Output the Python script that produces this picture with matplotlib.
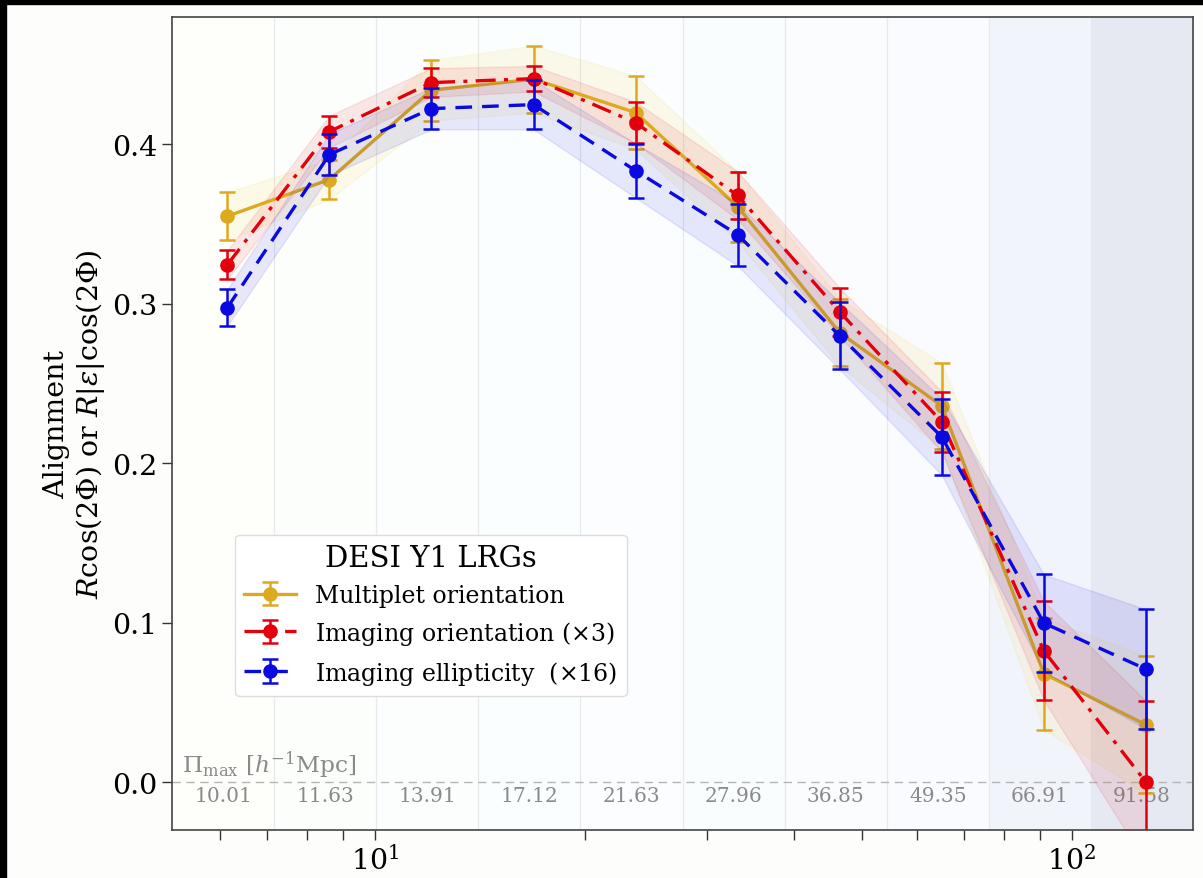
import numpy as np
import matplotlib
matplotlib.use("Agg")
import matplotlib.pyplot as plt
from matplotlib.patches import Rectangle

plt.rcParams['font.family'] = ['DejaVu Serif']
plt.rcParams['mathtext.fontset'] = 'dejavuserif'

# ---- data ----
r_centers = [6.14, 8.60, 12.05, 16.89, 23.66, 33.16, 46.45, 65.09, 91.2, 127.8]

multiplet = [0.355, 0.378, 0.434, 0.441, 0.420, 0.361, 0.282, 0.236, 0.068, 0.036]
multiplet_err = [0.015, 0.0125, 0.019, 0.021, 0.023, 0.022, 0.021, 0.027, 0.035, 0.043]

img_orient = [0.3245, 0.408, 0.4388, 0.4413, 0.4137, 0.368, 0.295, 0.226, 0.0824, 0.0]
img_orient_err = [0.009, 0.010, 0.009, 0.008, 0.013, 0.015, 0.015, 0.019, 0.031, 0.051]

img_ellip = [0.2976, 0.3936, 0.4225, 0.425, 0.3836, 0.3434, 0.280, 0.2166, 0.0998, 0.0709]
img_ellip_err = [0.0115, 0.013, 0.013, 0.0155, 0.017, 0.0195, 0.021, 0.024, 0.0305, 0.0375]

band_edges = [5.115, 7.168, 10.044, 14.075, 19.72, 27.64, 38.73, 54.27, 76.05, 106.57, 149.3]
pimax_labels = ['10.01', '11.63', '13.91', '17.12', '21.63', '27.96', '36.85', '49.35', '66.91', '91.58']

series_labels = ['Multiplet orientation', r'Imaging orientation ($\times$3)',
                 r'Imaging ellipticity  ($\times$16)']

# ---- style ----
band_colors = ['#FEFEFB', '#FCFEFC', '#FBFEFD', '#FBFEFE', '#FBFDFE', '#FAFDFE',
               '#FAFCFE', '#F9FBFE', '#F2F4FC', '#E6E8F2']
c_gold = '#DDA91F'
c_red = '#E2000C'
c_blue = '#0A0AE0'
fill_colors = ['#F2CC1A', c_red, c_blue]

fig = plt.figure(figsize=(12.03, 8.79), dpi=100)
fig.patch.set_facecolor('#FDFDFB')
ax = fig.add_axes([0.143, 0.0546, 0.8487, 0.9250])

ax.set_xscale('log')
ax.set_xlim(band_edges[0], band_edges[-1])
ax.set_ylim(-0.030, 0.480)

# background bands
for i in range(len(pimax_labels)):
    ax.axvspan(band_edges[i], band_edges[i + 1], color=band_colors[i], zorder=0, lw=0)
    if i > 0:
        ax.axvline(band_edges[i], color='#E6E9EE', lw=0.9, zorder=0.5)
    xc = np.sqrt(band_edges[i] * band_edges[i + 1])
    ax.text(xc, -0.0085, pimax_labels[i], ha='center', va='center',
            fontsize=14.5, color='#8A8A8A', zorder=1)

ax.text(0.01, 0.0112, r'$\Pi_{\rm max}\ [h^{-1}{\rm Mpc}]$', transform=ax.get_yaxis_transform(),
        ha='left', va='center', fontsize=16.8, color='#8A8A8A', zorder=1)
ax.axhline(0.0, color='#B5B5B5', lw=1.0, ls=(0, (6, 4)), zorder=1)

x = np.array(r_centers)
specs = [
    (multiplet, multiplet_err, c_gold, '-', series_labels[0]),
    (img_orient, img_orient_err, c_red, (0, (6, 2.5, 1.2, 2.5)), series_labels[1]),
    (img_ellip, img_ellip_err, c_blue, (0, (5, 3)), series_labels[2]),
]
handles = []
for k, (y, e, c, ls, lab) in enumerate(specs):
    y = np.array(y); e = np.array(e)
    ax.fill_between(x, y - e, y + e, color=fill_colors[k], alpha=0.09, lw=1.0, zorder=2 + k)
    h = ax.errorbar(x, y, yerr=e, color=c, ls=ls, lw=2.4, marker='o', ms=9.5,
                    capsize=6, elinewidth=1.8, capthick=1.8, label=lab, zorder=3 + k)
    handles.append(h)

ax.set_yticks([0.0, 0.1, 0.2, 0.3, 0.4])
ax.tick_params(axis='both', which='major', labelsize=20.5, length=7, width=1.0, color='#333333')
ax.tick_params(axis='x', which='minor', length=7, width=1.0, color='#333333')
for s in ax.spines.values():
    s.set_color('#444444')
    s.set_linewidth(1.2)

ax.set_ylabel('Alignment\n' + r'$R\cos(2\Phi)$ or $R|\varepsilon|\cos(2\Phi)$',
              fontsize=20.5, labelpad=4, linespacing=1.15)

leg = ax.legend(handles=handles, loc='lower left', bbox_to_anchor=(0.0617, 0.1648),
                borderaxespad=0, fontsize=17, title='DESI Y1 LRGs', title_fontsize=21,
                frameon=True, framealpha=1.0, edgecolor='#DDDDDD', handlelength=2.2)
leg.get_frame().set_facecolor('white')
leg.set_zorder(10)

# screenshot border strips
fig.patches.append(Rectangle((0, 1 - 5 / 879), 1, 5 / 879, transform=fig.transFigure,
                             color='black', zorder=100))
fig.patches.append(Rectangle((0, 0), 6 / 1203, 1, transform=fig.transFigure,
                             color='black', zorder=100))

fig.savefig('out.png', dpi=100, facecolor=fig.get_facecolor())
